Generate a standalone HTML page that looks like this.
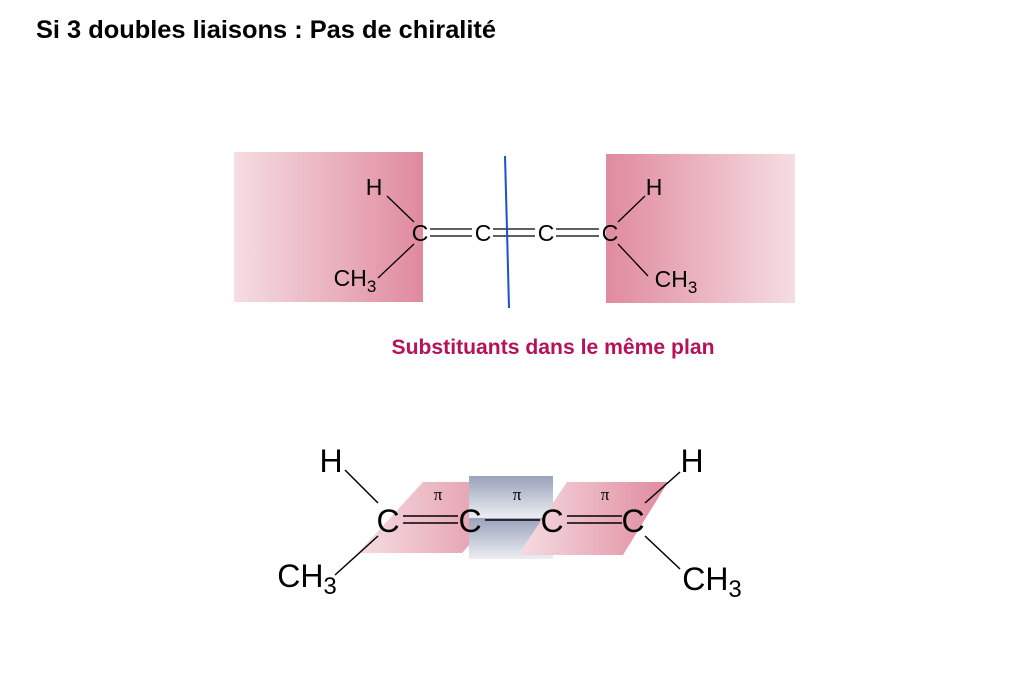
<!DOCTYPE html>
<html><head><meta charset="utf-8"><style>
body{margin:0;background:#fff;width:1012px;height:687px;overflow:hidden}
svg{display:block}
text{font-family:"Liberation Sans",sans-serif}
</style></head><body>
<svg width="1012" height="687" viewBox="0 0 1012 687">
<defs>
<linearGradient id="gl" x1="0" x2="1" y1="0" y2="0"><stop offset="0" stop-color="#f5dde2"/><stop offset="1" stop-color="#e08a9e"/></linearGradient>
<linearGradient id="gr" x1="1" x2="0" y1="0" y2="0"><stop offset="0" stop-color="#f5dde2"/><stop offset="1" stop-color="#e08a9e"/></linearGradient>
<linearGradient id="gb" x1="0" x2="0" y1="0" y2="1"><stop offset="0" stop-color="#9aa2bb"/><stop offset="1" stop-color="#eceef3"/></linearGradient>
</defs>
<text x="36" y="38" font-size="25" font-weight="bold" fill="#000" textLength="460" lengthAdjust="spacingAndGlyphs">Si 3 doubles liaisons : Pas de chiralité</text>
<rect x="234" y="152" width="189" height="150" fill="url(#gl)"/>
<rect x="606" y="154" width="189" height="149" fill="url(#gr)"/>
<g stroke="#000" stroke-width="1.3" fill="none">
<line x1="387" y1="196" x2="414" y2="222"/><line x1="414" y1="244" x2="378" y2="278"/>
<line x1="430" y1="229" x2="472" y2="229"/><line x1="430" y1="236" x2="472" y2="236"/>
<line x1="493" y1="229" x2="535" y2="229"/><line x1="493" y1="236" x2="535" y2="236"/>
<line x1="556" y1="229" x2="599" y2="229"/><line x1="556" y1="236" x2="599" y2="236"/>
<line x1="645" y1="196" x2="618" y2="222"/><line x1="618" y1="244" x2="648" y2="276"/>
</g>
<g font-size="23" fill="#000" text-anchor="middle">
<text x="420" y="241">C</text><text x="483" y="241">C</text><text x="546" y="241">C</text><text x="610" y="241">C</text>
<text x="374" y="195">H</text><text x="654" y="195">H</text>
<text x="355" y="286">CH<tspan font-size="17" dy="6">3</tspan></text>
<text x="676" y="287">CH<tspan font-size="17" dy="6">3</tspan></text>
</g>
<path d="M505 156 L507 230 L509 308" stroke="#1a4fd6" stroke-width="2" fill="none"/>
<text x="553" y="354" font-size="21" font-weight="bold" fill="#b8115a" text-anchor="middle" textLength="323" lengthAdjust="spacingAndGlyphs">Substituants dans le même plan</text>
<polygon points="423,482 527,482 462,553 358,553" fill="url(#gl)"/>
<rect x="469" y="476" width="84" height="42" fill="url(#gb)"/>
<rect x="469" y="518" width="84" height="41" fill="url(#gb)"/>
<polygon points="567,482 668,482 623,555 518,555" fill="url(#gl)"/>
<g stroke="#000" stroke-width="1.5" fill="none">
<line x1="345" y1="470" x2="378" y2="503"/><line x1="378" y1="536" x2="335" y2="575"/>
<line x1="403" y1="516" x2="458" y2="516"/><line x1="403" y1="523" x2="458" y2="523"/>
<line x1="485" y1="520" x2="540" y2="520"/>
<line x1="567" y1="516" x2="622" y2="516"/><line x1="567" y1="523" x2="622" y2="523"/>
<line x1="680" y1="472" x2="645" y2="503"/><line x1="645" y1="536" x2="680" y2="569"/>
</g>
<g font-size="32" fill="#000" text-anchor="middle">
<text x="388" y="532">C</text><text x="470" y="532">C</text><text x="552" y="532">C</text><text x="633" y="532">C</text>
<text x="331" y="472">H</text><text x="692" y="472">H</text>
<text x="307" y="587">CH<tspan font-size="24" dy="7">3</tspan></text>
<text x="712" y="590">CH<tspan font-size="24" dy="7">3</tspan></text>
</g>
<g font-size="17" fill="#000" text-anchor="middle">
<text x="438" y="500" style="font-family:'Liberation Serif',serif">π</text>
<text x="517" y="500" style="font-family:'Liberation Serif',serif">π</text>
<text x="605" y="500" style="font-family:'Liberation Serif',serif">π</text>
</g>
</svg>
</body></html>
